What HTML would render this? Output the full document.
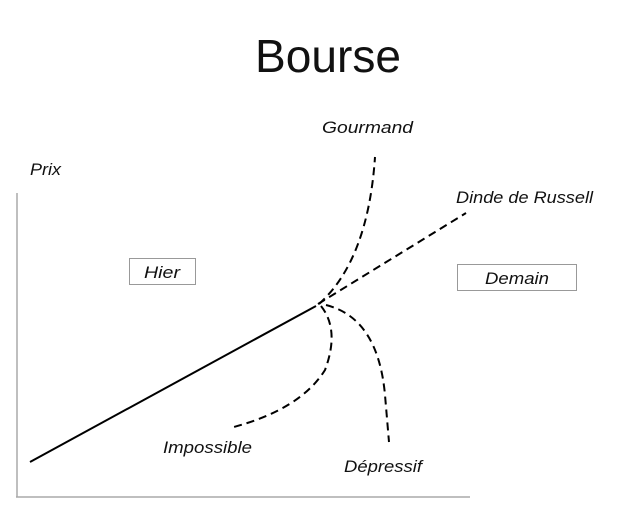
<!DOCTYPE html>
<html><head><style>
body{margin:0;width:620px;height:509px;background:#fff;overflow:hidden}
svg{display:block}
text{font-family:"Liberation Sans",sans-serif;font-style:italic;fill:#111}
</style></head><body>
<svg width="620" height="509" viewBox="0 0 620 509">
<text x="328" y="72" text-anchor="middle" style="font-style:normal;font-size:46px" textLength="146" lengthAdjust="spacingAndGlyphs">Bourse</text>
<text x="322" y="133" font-size="17" textLength="91" lengthAdjust="spacingAndGlyphs">Gourmand</text>
<text x="30" y="175" font-size="17" textLength="31" lengthAdjust="spacingAndGlyphs">Prix</text>
<text x="456" y="203" font-size="17" textLength="137" lengthAdjust="spacingAndGlyphs">Dinde de Russell</text>
<text x="163" y="453" font-size="17" textLength="89" lengthAdjust="spacingAndGlyphs">Impossible</text>
<text x="344" y="472" font-size="17" textLength="78" lengthAdjust="spacingAndGlyphs">Dépressif</text>
<line x1="17" y1="193" x2="17" y2="497" stroke="#aaa" stroke-width="1.5"/>
<line x1="16" y1="497" x2="470" y2="497" stroke="#aaa" stroke-width="1.5"/>
<rect x="129.5" y="258.5" width="66" height="26" fill="none" stroke="#999"/>
<text x="144" y="278" font-size="17" textLength="36" lengthAdjust="spacingAndGlyphs">Hier</text>
<rect x="457.5" y="264.5" width="119" height="26" fill="none" stroke="#999"/>
<text x="485" y="284" font-size="17" textLength="64" lengthAdjust="spacingAndGlyphs">Demain</text>
<line x1="30" y1="462" x2="316" y2="306" stroke="#000" stroke-width="2"/>
<g fill="none" stroke="#000" stroke-width="2" stroke-dasharray="8,5">
<line x1="318" y1="304" x2="466" y2="213"/>
<path d="M319 304 Q368 260 375 157"/>
<path d="M321 306 Q340 330 325 370 Q300 410 230 428"/>
<path d="M326 305 Q378 318 385 395 L389 442"/>
</g>
</svg>
</body></html>
